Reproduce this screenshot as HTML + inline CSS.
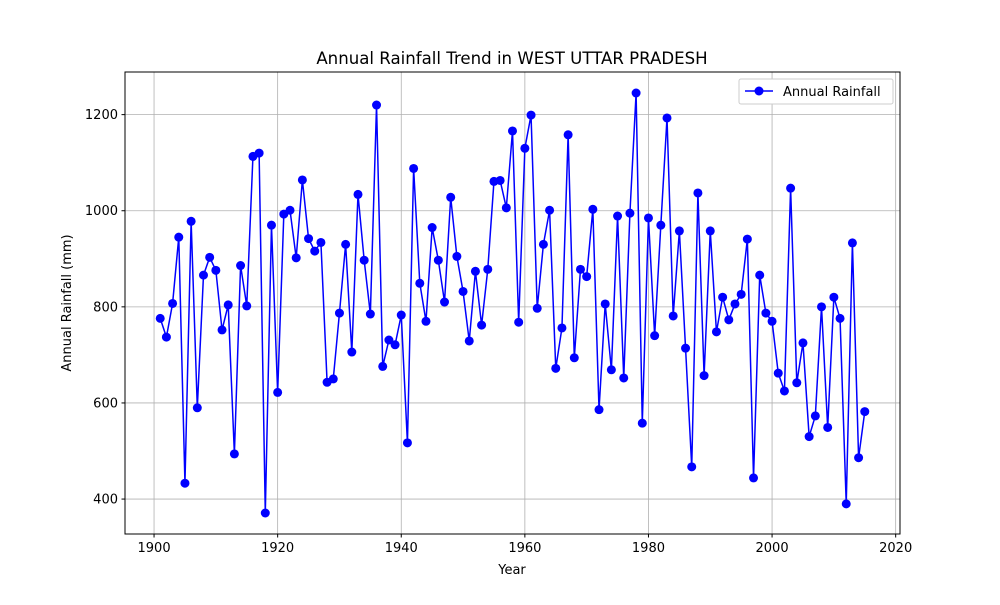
<!DOCTYPE html>
<html><head><meta charset="utf-8"><style>
body{margin:0;background:#fff;}
svg text{font-family:"DejaVu Sans","Liberation Sans",sans-serif;fill:#000;}
</style></head><body>
<svg id="chart" width="1000" height="600" xmlns="http://www.w3.org/2000/svg">
<rect width="1000" height="600" fill="#fff"/>
<g id="grid"></g>
<g id="series"></g>
<rect x="125" y="72" width="775" height="462" fill="none" stroke="#000" stroke-width="1"/>
<g id="xticks"></g>
<g id="yticks"></g>
<text x="512" y="64" font-size="16.6" text-anchor="middle">Annual Rainfall Trend in WEST UTTAR PRADESH</text>
<text x="512" y="574" font-size="13" text-anchor="middle">Year</text>
<text x="0" y="0" font-size="13" text-anchor="middle" transform="translate(71,303) rotate(-90)">Annual Rainfall (mm)</text>
<g>
<rect x="739" y="79" width="154" height="25" fill="#fff" stroke="#ccc" rx="2"/>
<line x1="745" y1="91" x2="773" y2="91" stroke="#0000ff" stroke-width="1.5"/>
<circle cx="759" cy="91" r="4.5" fill="#0000ff"/>
<text x="783" y="96" font-size="13">Annual Rainfall</text>
</g>
</svg>
<script>
const years=[];for(let y=1901;y<=2015;y++)years.push(y);
const rainfall=[776,737,807,945,433,978,590,866,903,876,752,804,494,886,802,1113,1120,371,970,622,993,1001,902,1064,942,916,934,643,650,787,930,706,1034,897,785,1220,676,731,721,783,517,1088,849,770,965,897,810,1028,905,832,729,874,762,878,1061,1063,1006,1166,768,1130,1199,797,930,1001,672,756,1158,694,878,863,1003,586,806,669,989,652,995,1245,558,985,740,970,1193,781,958,714,467,1037,657,958,748,820,773,806,826,941,444,866,787,770,662,625,1047,642,725,530,573,800,549,820,776,390,933,486,582];
const xTicks=[1900,1920,1940,1960,1980,2000,2020];
const yTicks=[400,600,800,1000,1200];
const L=125,R=900,T=72,B=534;
const xmin=1895.3,xmax=2020.7,ymin=327.3,ymax=1288.7;
const X=v=>L+(v-xmin)/(xmax-xmin)*(R-L);
const Y=v=>B-(v-ymin)/(ymax-ymin)*(B-T);
const NS="http://www.w3.org/2000/svg";
function mk(t,a,p){const e=document.createElementNS(NS,t);for(const k in a)e.setAttribute(k,a[k]);p.appendChild(e);return e;}
const g=document.getElementById('grid'),xt=document.getElementById('xticks'),yt=document.getElementById('yticks'),s=document.getElementById('series');
xTicks.forEach(v=>{const x=X(v);
const gl=mk('line',{x1:x,x2:x,y1:T,y2:B,stroke:'#b0b0b0','stroke-width':0.8},g);


mk('line',{x1:x,x2:x,y1:B,y2:B+3.5,stroke:'#000'},xt);
const t=mk('text',{x:x,y:B+18,'font-size':13,'text-anchor':'middle'},xt);t.textContent=v;

});
yTicks.forEach(v=>{const y=Y(v);
const gl=mk('line',{x1:L,x2:R,y1:y,y2:y,stroke:'#b0b0b0','stroke-width':0.8},g);


mk('line',{x1:L-3.5,x2:L,y1:y,y2:y,stroke:'#000'},yt);
const t=mk('text',{x:L-7,y:y+4.5,'font-size':13,'text-anchor':'end'},yt);t.textContent=v;

});
const pts=years.map((yr,i)=>X(yr).toFixed(2)+','+Y(rainfall[i]).toFixed(2)).join(' ');
const pl=mk('polyline',{points:pts,fill:'none',stroke:'#0000ff','stroke-width':1.5},s);


years.forEach((yr,i)=>{const c=mk('circle',{cx:X(yr),cy:Y(rainfall[i]),r:4.5,fill:'#0000ff'},s);

});
</script>
</body></html>
